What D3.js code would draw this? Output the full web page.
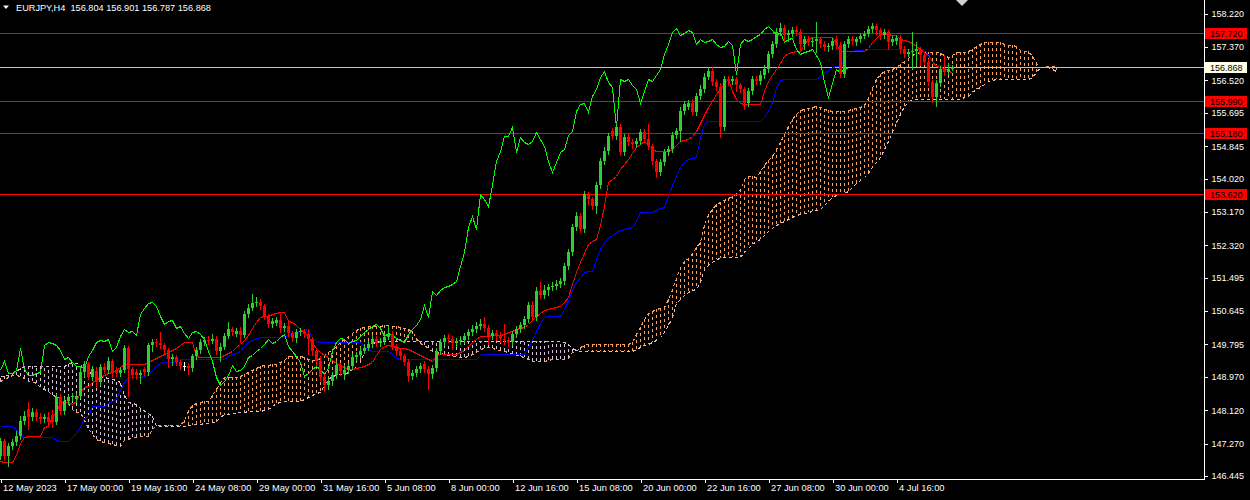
<!DOCTYPE html>
<html><head><meta charset="utf-8">
<script src="https://cdn.jsdelivr.net/npm/d3@7"></script>
<style>html,body{margin:0;padding:0;background:#000;overflow:hidden}svg{display:block}</style>
</head><body>
<svg id="c" width="1250" height="500"></svg>
<script>
const symbolTitle = "EURJPY,H4";
const lastQuote = ["156.804","156.901","156.787","156.868"];

const openP = [146.95,147.33,146.95,147.20,147.30,147.46,147.84,148.14,147.94,148.07,
147.94,147.89,147.94,147.99,147.81,148.45,148.09,148.35,148.45,148.40,
148.48,149.09,149.29,148.96,149.11,148.83,149.21,149.14,149.37,149.14,
149.06,149.14,149.70,149.16,149.09,149.01,149.16,149.09,149.77,149.85,
149.82,149.77,149.65,149.42,149.47,149.34,149.24,149.24,149.19,149.49,
149.65,149.85,149.90,149.88,149.93,149.62,149.72,150.00,150.18,150.05,
150.13,150.03,150.56,150.72,150.84,150.87,150.77,150.51,150.31,150.33,
150.41,150.21,150.26,150.08,149.95,150.10,150.13,150.05,149.93,149.62,
149.37,148.96,148.76,148.86,149.01,149.26,149.04,149.14,149.24,149.47,
149.52,149.62,149.70,149.80,149.93,149.82,149.88,149.98,150.05,149.75,
149.62,149.49,149.34,148.98,149.06,149.16,149.29,149.16,149.04,149.19,
149.62,149.85,149.95,149.93,149.82,149.88,149.90,150.00,150.10,150.18,
150.26,150.31,150.21,150.00,150.08,150.03,149.93,149.90,149.85,150.05,
150.18,150.28,150.44,150.79,150.49,151.15,151.05,151.17,151.25,151.28,
151.33,151.40,151.79,152.14,152.78,153.06,152.73,153.62,153.49,153.31,
153.85,154.46,154.71,155.22,155.10,155.32,154.69,155.07,154.94,154.89,
154.97,155.20,155.02,154.84,154.46,154.18,154.43,154.69,154.76,155.12,
155.22,155.73,155.83,155.94,155.71,156.11,156.29,156.60,156.75,156.47,
156.34,155.32,156.55,156.50,156.55,156.39,156.29,155.94,156.24,156.55,
156.50,156.65,156.80,157.18,157.44,157.74,157.85,157.67,157.69,157.79,
157.74,157.44,157.57,157.49,157.51,157.57,157.44,157.36,157.39,157.57,
157.41,156.67,157.44,157.57,157.49,157.57,157.64,157.69,157.82,157.90,
157.79,157.67,157.74,157.49,157.51,157.59,157.31,157.18,157.23,157.26,
157.31,157.16,156.98,156.47,156.09,156.45,156.80,156.73,156.804];

const highP = [147.41,147.38,147.28,147.38,147.58,147.97,148.09,148.32,148.17,148.14,
148.04,148.02,148.07,148.12,148.53,148.53,148.42,148.50,148.55,148.55,
149.24,149.37,149.34,149.24,149.21,149.29,149.32,149.47,149.42,149.21,
149.21,149.77,149.75,149.21,149.16,149.14,149.21,149.82,149.93,149.93,
150.10,149.82,149.70,149.54,149.52,149.39,149.34,149.32,149.54,149.72,
149.93,149.98,150.00,150.05,150.00,149.82,150.08,150.36,150.23,150.21,
150.23,150.64,150.82,151.07,151.00,150.95,150.82,150.56,150.46,150.49,
150.56,150.33,150.36,150.13,150.18,150.21,150.18,150.18,149.98,149.67,
149.49,149.04,148.93,149.09,149.37,149.32,149.26,149.32,149.54,149.60,
149.72,149.80,149.88,150.03,150.00,149.95,150.05,150.26,150.13,149.80,
149.67,149.54,149.42,149.14,149.24,149.32,149.37,149.24,149.26,149.70,
149.93,150.03,150.05,150.00,149.95,150.00,150.08,150.18,150.28,150.36,
150.44,150.49,150.28,150.16,150.16,150.10,150.31,149.98,150.13,150.26,
150.36,150.51,150.87,150.89,151.25,151.38,151.30,151.33,151.38,151.43,
151.48,151.86,152.22,152.86,153.16,153.14,153.70,153.67,153.54,153.92,
154.54,154.82,155.17,155.30,155.48,155.40,155.15,155.15,155.02,155.05,
155.27,155.27,155.40,154.89,154.51,154.51,154.76,154.84,155.20,155.30,
155.83,155.99,156.01,156.04,156.19,156.39,156.70,156.85,156.85,156.55,
156.45,156.62,156.62,156.62,156.60,156.45,156.34,156.32,156.62,156.62,
156.75,156.90,157.26,157.51,157.85,157.97,157.92,157.79,157.87,157.90,
157.82,157.64,157.64,157.59,158.00,157.62,157.51,157.46,157.59,157.64,
157.49,157.51,157.64,157.64,157.62,157.72,157.77,157.90,157.97,157.95,
157.85,157.82,157.79,157.64,157.67,157.67,157.39,157.31,157.74,157.49,
157.36,157.21,157.06,156.52,156.52,156.88,157.16,156.95,156.901];

const lowP = [146.87,146.85,146.69,147.13,147.23,147.38,147.76,147.64,147.86,147.86,
147.79,147.81,147.71,147.69,147.76,148.02,148.02,148.27,148.37,148.32,
148.42,148.98,148.91,148.88,148.70,148.76,149.06,149.06,148.96,148.98,
148.98,149.09,148.48,148.93,148.91,148.81,149.01,149.01,149.62,149.75,
149.70,149.57,149.21,149.26,149.26,149.16,149.14,149.04,149.11,149.42,
149.57,149.77,149.80,149.82,149.54,149.37,149.67,149.95,150.03,150.00,
149.85,149.98,150.49,150.67,150.77,150.69,150.44,150.23,150.23,150.28,
150.10,150.13,150.00,149.88,149.85,150.03,149.98,149.54,149.52,149.26,
148.88,148.60,148.65,148.76,148.93,149.01,148.91,149.06,149.16,149.39,
149.47,149.57,149.65,149.72,149.75,149.75,149.80,149.93,149.67,149.52,
149.42,149.26,148.86,148.91,148.98,149.09,149.09,148.65,148.93,149.11,
149.54,149.77,149.85,149.67,149.75,149.80,149.82,149.93,150.03,150.10,
150.18,150.13,149.80,149.93,149.90,149.85,149.80,149.75,149.77,149.98,
150.10,150.21,150.36,150.41,150.41,150.97,150.97,151.05,151.17,151.20,
151.25,151.33,151.71,152.07,152.70,152.65,152.65,153.36,153.24,153.14,
153.77,154.38,154.64,155.02,155.02,154.61,154.61,154.87,154.79,154.82,
154.89,154.94,154.76,154.38,154.05,154.10,154.36,154.61,154.69,155.05,
154.97,155.66,155.78,155.63,155.63,156.04,156.22,156.55,156.39,156.27,
155.07,155.25,156.39,156.42,156.24,156.22,155.78,155.86,156.17,156.42,
156.42,156.57,156.73,157.11,157.36,157.67,157.51,157.51,157.64,157.67,
157.26,157.31,157.41,157.39,157.23,157.36,157.29,157.26,157.31,157.31,
156.60,156.60,157.36,157.44,157.41,157.49,157.59,157.64,157.74,157.69,
157.57,157.59,157.31,157.41,157.44,157.21,157.11,157.13,156.80,156.90,
156.90,156.93,156.39,155.96,155.86,156.37,156.65,156.67,156.787];

const closeP = [147.33,146.95,147.20,147.30,147.46,147.84,147.97,147.94,148.07,147.94,
147.89,147.94,147.81,147.81,148.45,148.09,148.35,148.45,148.48,148.48,
149.09,149.29,148.96,149.16,148.83,149.21,149.14,149.37,149.06,149.06,
149.14,149.70,149.16,149.01,149.01,149.06,149.09,149.77,149.85,149.82,
149.77,149.65,149.42,149.47,149.34,149.24,149.24,149.19,149.49,149.65,
149.85,149.90,149.88,149.93,149.62,149.72,150.00,150.18,150.10,150.13,
150.03,150.56,150.72,150.84,150.87,150.77,150.51,150.31,150.39,150.41,
150.21,150.26,150.08,149.95,150.10,150.13,150.05,149.93,149.62,149.37,
148.96,148.76,148.86,149.01,149.26,149.11,149.14,149.24,149.47,149.52,
149.62,149.70,149.80,149.93,149.82,149.88,149.98,150.05,149.75,149.62,
149.49,149.34,148.98,149.06,149.16,149.24,149.16,149.04,149.19,149.62,
149.85,149.95,149.93,149.82,149.88,149.90,150.00,150.10,150.18,150.26,
150.31,150.21,150.00,150.08,150.03,149.95,149.90,149.85,150.05,150.18,
150.28,150.44,150.79,150.49,151.15,151.05,151.17,151.25,151.28,151.33,
151.40,151.79,152.14,152.78,153.06,152.73,153.62,153.49,153.31,153.85,
154.46,154.71,155.10,155.10,155.32,154.69,155.07,154.94,154.89,154.97,
155.20,155.02,154.84,154.46,154.18,154.43,154.69,154.76,155.12,155.22,
155.73,155.91,155.94,155.71,156.11,156.29,156.60,156.75,156.47,156.34,
155.32,156.55,156.50,156.55,156.39,156.29,155.94,156.24,156.55,156.50,
156.65,156.80,157.18,157.44,157.74,157.85,157.67,157.72,157.79,157.74,
157.44,157.57,157.49,157.51,157.57,157.44,157.36,157.39,157.51,157.41,
156.67,157.44,157.57,157.51,157.57,157.64,157.69,157.82,157.90,157.79,
157.67,157.74,157.49,157.57,157.59,157.31,157.18,157.23,157.26,157.31,
157.16,156.98,156.47,156.09,156.45,156.80,156.73,156.80,156.868];

const tenkan = [146.82,146.80,146.80,146.80,146.97,147.28,147.43,147.46,147.46,147.46,
147.46,147.69,147.71,147.97,148.07,148.32,148.32,148.32,148.27,148.35,
148.58,148.70,148.73,148.83,148.88,148.96,149.01,149.06,149.09,149.14,
149.21,149.29,149.29,149.29,149.29,149.29,149.29,149.34,149.39,149.44,
149.49,149.54,149.60,149.65,149.70,149.77,149.85,149.85,149.85,149.49,
149.47,149.47,149.47,149.47,149.47,149.47,149.52,149.57,149.62,149.72,
149.80,149.90,150.03,150.21,150.36,150.49,150.51,150.51,150.56,150.59,
150.61,150.61,150.39,150.36,150.28,150.18,150.10,150.00,149.82,149.70,
149.60,149.52,149.47,149.39,149.32,149.26,149.21,149.16,149.16,149.19,
149.21,149.24,149.29,149.34,149.52,149.67,149.75,149.77,149.75,149.72,
149.70,149.70,149.67,149.62,149.57,149.52,149.47,149.42,149.37,149.52,
149.54,149.54,149.54,149.54,149.54,149.60,149.65,149.75,149.85,149.93,
150.00,150.00,150.00,150.03,150.03,150.03,150.05,150.10,150.13,150.18,
150.21,150.23,150.31,150.41,150.51,150.59,150.66,150.69,150.72,150.74,
150.77,150.87,151.00,151.33,151.63,151.89,152.12,152.35,152.42,152.47,
152.83,153.31,153.92,154.00,154.08,154.26,154.38,154.51,154.66,154.82,
154.89,154.97,154.87,154.76,154.71,154.71,154.71,154.71,154.76,154.87,
154.97,154.99,155.02,155.10,155.22,155.43,155.63,155.83,155.99,156.17,
156.29,156.45,156.55,156.24,156.04,155.94,155.91,155.91,155.91,155.91,
155.91,156.24,156.50,156.65,156.80,156.95,157.13,157.21,157.23,157.26,
157.26,157.44,157.57,157.62,157.62,157.62,157.62,157.62,157.62,157.44,
157.26,157.26,157.26,157.26,157.26,157.26,157.26,157.34,157.49,157.59,
157.69,157.69,157.69,157.67,157.67,157.57,157.54,157.51,157.46,157.39,
157.31,157.23,157.16,157.01,156.88,156.85,156.83,156.78,156.70];

const kijun = [147.71,147.71,147.71,147.71,147.64,147.46,147.43,147.43,147.43,147.43,
147.43,147.43,147.43,147.43,147.35,147.33,147.33,147.33,147.43,147.53,
147.69,147.91,147.97,148.22,148.22,148.22,148.22,148.30,148.35,148.42,
148.63,148.83,148.96,148.96,148.96,148.96,148.98,149.04,149.14,149.24,
149.32,149.34,149.34,149.34,149.37,149.42,149.42,149.42,149.42,149.42,
149.42,149.42,149.42,149.42,149.42,149.42,149.42,149.49,149.54,149.57,
149.62,149.75,149.85,149.90,149.95,149.98,149.98,149.98,149.98,149.98,
149.98,150.00,150.03,150.05,150.10,150.13,150.18,150.16,149.98,149.88,
149.85,149.85,149.85,149.85,149.85,149.85,149.85,149.85,149.85,149.85,
149.85,149.75,149.65,149.62,149.62,149.62,149.62,149.62,149.54,149.44,
149.42,149.42,149.42,149.42,149.42,149.42,149.42,149.42,149.42,149.42,
149.42,149.42,149.42,149.42,149.42,149.42,149.42,149.42,149.42,149.42,
149.52,149.54,149.54,149.54,149.54,149.54,149.54,149.54,149.54,149.54,
149.54,149.54,149.72,149.90,150.13,150.33,150.49,150.51,150.51,150.51,
150.51,150.69,150.89,151.17,151.38,151.50,151.63,151.66,151.66,151.96,
152.22,152.40,152.50,152.57,152.65,152.70,152.73,152.75,152.78,152.93,
153.16,153.16,153.16,153.16,153.21,153.26,153.29,153.57,153.85,154.08,
154.31,154.43,154.51,154.54,154.56,155.07,155.40,155.48,155.48,155.48,
155.48,155.48,155.48,155.48,155.48,155.48,155.48,155.48,155.48,155.48,
155.48,155.58,155.73,155.96,156.32,156.52,156.55,156.55,156.55,156.55,
156.55,156.55,156.55,156.55,156.55,156.62,156.70,156.78,156.85,156.88,
156.88,157.06,157.16,157.26,157.29,157.29,157.31,157.31,157.31,157.31,
157.31,157.31,157.31,157.31,157.31,157.31,157.31,157.31,157.31,157.31,
157.31,157.31,157.18,157.01,156.90,156.90,156.90,156.90,156.90];

const spanA = [148.86,148.91,148.96,149.01,149.01,148.98,148.93,148.86,148.86,148.81,
148.70,148.65,148.60,148.50,148.48,148.45,148.40,148.30,148.14,148.07,
148.07,147.86,147.66,147.51,147.38,147.33,147.30,147.28,147.25,147.23,
147.20,147.35,147.38,147.43,147.43,147.46,147.46,147.46,147.64,147.74,
147.74,147.74,147.74,147.74,147.74,147.74,147.86,148.12,148.25,148.30,
148.32,148.35,148.35,148.50,148.65,148.83,148.96,148.96,148.96,148.96,
148.98,149.04,149.09,149.14,149.19,149.24,149.26,149.26,149.29,149.29,
149.34,149.39,149.49,149.49,149.49,149.49,149.47,149.42,149.39,149.39,
149.44,149.52,149.60,149.67,149.75,149.85,149.93,150.00,150.08,150.16,
150.21,150.23,150.26,150.26,150.26,150.26,150.28,150.28,150.26,150.26,
150.23,150.21,150.18,150.13,149.95,149.82,149.77,149.70,149.62,149.60,
149.57,149.54,149.52,149.49,149.49,149.47,149.47,149.49,149.54,149.60,
149.67,149.70,149.72,149.70,149.67,149.65,149.62,149.60,149.54,149.52,
149.49,149.47,149.42,149.37,149.37,149.37,149.37,149.39,149.42,149.42,
149.42,149.42,149.44,149.60,149.62,149.72,149.77,149.80,149.80,149.80,
149.80,149.80,149.80,149.80,149.80,149.80,149.80,149.80,149.85,150.05,
150.23,150.44,150.59,150.64,150.69,150.72,150.74,150.95,151.20,151.48,
151.76,151.91,151.99,152.12,152.27,152.40,152.83,153.11,153.24,153.36,
153.41,153.47,153.52,153.57,153.64,153.75,154.00,154.08,154.08,154.05,
154.20,154.36,154.48,154.59,154.76,154.94,155.15,155.35,155.53,155.66,
155.76,155.78,155.81,155.83,155.86,155.83,155.78,155.76,155.73,155.73,
155.73,155.73,155.76,155.78,155.81,155.83,155.88,156.06,156.32,156.55,
156.67,156.75,156.78,156.80,156.85,156.93,157.01,157.08,157.16,157.21,
157.23,157.23,157.23,157.23,157.23,157.21,157.16,157.11,157.16,157.23,
157.23,157.23,157.26,157.31,157.39,157.44,157.49,157.49,157.49,157.49,
157.49,157.44,157.41,157.41,157.39,157.29,157.26,157.26,157.13,156.95,
156.85,156.85,156.88,156.88,156.85];

const spanB = [148.98,148.98,149.01,149.06,149.11,149.19,149.24,149.24,149.24,149.24,
149.24,149.24,149.24,149.24,149.24,149.24,149.24,149.29,149.34,149.32,
149.29,149.14,149.09,149.06,149.04,148.98,148.96,148.93,148.91,148.88,
148.83,148.50,148.32,148.30,148.27,148.17,148.12,148.04,147.97,147.71,
147.71,147.71,147.71,147.71,147.71,147.71,147.71,147.74,147.74,147.76,
147.76,147.79,147.79,147.81,147.81,147.97,147.99,148.02,148.04,148.04,
148.07,148.07,148.09,148.09,148.09,148.09,148.12,148.14,148.22,148.30,
148.32,148.35,148.35,148.35,148.35,148.35,148.40,148.45,148.50,148.55,
148.58,148.76,148.91,148.98,149.01,149.04,149.04,149.09,149.16,149.24,
149.34,149.62,149.77,149.82,149.85,149.88,149.88,149.88,149.88,149.88,
149.88,149.88,149.88,149.88,149.88,149.88,149.88,149.88,149.88,149.88,
149.88,149.88,149.88,149.88,149.88,149.88,149.88,149.88,149.88,149.88,
149.88,149.88,149.88,149.88,149.88,149.88,149.88,149.88,149.88,149.88,
149.88,149.88,149.88,149.88,149.88,149.88,149.88,149.88,149.88,149.88,
149.88,149.85,149.80,149.70,149.65,149.62,149.62,149.62,149.62,149.62,
149.62,149.62,149.62,149.62,149.62,149.62,149.62,149.62,149.62,149.67,
149.72,149.77,149.80,149.85,149.90,149.98,150.10,150.28,150.49,150.84,
150.95,151.05,151.12,151.17,151.20,151.38,151.71,151.81,151.89,151.96,
151.99,152.01,152.01,152.01,152.01,152.01,152.14,152.24,152.35,152.42,
152.47,152.57,152.68,152.75,152.83,152.88,152.93,152.98,153.03,153.08,
153.11,153.13,153.16,153.19,153.21,153.24,153.34,153.44,153.54,153.59,
153.62,153.64,153.69,153.80,153.90,153.98,154.05,154.15,154.31,154.43,
154.56,154.76,154.97,155.20,155.43,155.66,155.86,155.96,156.04,156.04,
156.04,156.04,156.04,156.04,156.04,156.04,156.04,156.04,156.04,156.04,
156.04,156.09,156.11,156.22,156.29,156.34,156.42,156.50,156.52,156.55,
156.55,156.55,156.55,156.55,156.55,156.55,156.55,156.55,156.60,156.73,
156.85,156.85,156.85,156.80,156.75];

const chikouShift = 26;
const priceTicks = ["158.220","157.370","156.520","155.695","154.845","154.020","153.170","152.320",
                    "151.495","150.645","149.795","148.970","148.120","147.270","146.445"];
const timeLabels = ["12 May 2023","17 May 00:00","19 May 16:00","24 May 08:00","29 May 00:00",
                    "31 May 16:00","5 Jun 08:00","8 Jun 00:00","12 Jun 16:00","15 Jun 08:00",
                    "20 Jun 00:00","22 Jun 16:00","27 Jun 08:00","30 Jun 00:00","4 Jul 16:00"];
const timeLabelBars = [0,16,32,48,64,80,96,112,128,144,160,176,192,208,224];
const levelLines = ["157.720","155.990","155.180","153.620"];
const bidPrice = "156.868";

// ---------------- drawing ----------------
const W = 1250, H = 500, plotR = 1204, plotB = 479;
const FONT = "'Liberation Sans', Arial, sans-serif";
const UP = "#32CD32", DOWN = "#FF0000", DOJI = "#FFFFFF";
const C_TENKAN = "#FF0000", C_KIJUN = "#0000FF", C_CHIKOU = "#00FF00";
const C_SPANA = "#F4A460", C_SPANB = "#D8BFD8";
const DASH = "3,3";

const svg = d3.select("#c");
svg.append("rect").attr("width", W).attr("height", H).attr("fill", "#000");

const x = d3.scaleLinear().domain([0, 301]).range([0, 1204]);
const y = d3.scaleLinear().domain([146.445, 158.220]).range([476.0, 13.6]);
const px = i => Math.round(x(i)) + 0.5;
const py = v => Math.round(y(v)) + 0.5;

svg.append("defs").append("clipPath").attr("id", "plot")
  .append("rect").attr("x", 0).attr("y", 0).attr("width", plotR).attr("height", plotB);
const g = svg.append("g").attr("clip-path", "url(#plot)").attr("shape-rendering", "crispEdges");

// Ichimoku cloud hatch
const spanIdx = d3.range(spanA.length);
g.append("g").selectAll("line").data(spanIdx).join("line")
  .attr("x1", i => px(i)).attr("x2", i => px(i))
  .attr("y1", i => Math.round(y(spanA[i]))).attr("y2", i => Math.round(y(spanB[i])))
  .attr("stroke", i => spanA[i] >= spanB[i] ? C_SPANA : C_SPANB)
  .attr("stroke-width", 1).attr("stroke-dasharray", DASH);

const lineOf = (arr, shift) => d3.line().x((d, i) => px(i + shift)).y(d => Math.round(y(d)) + 0.5)(arr);
g.append("path").attr("d", lineOf(spanA, 0)).attr("fill", "none").attr("stroke", C_SPANA).attr("stroke-dasharray", DASH);
g.append("path").attr("d", lineOf(spanB, 0)).attr("fill", "none").attr("stroke", C_SPANB).attr("stroke-dasharray", DASH);

// horizontal level lines
g.selectAll("line.lvl").data(levelLines).join("line").attr("class", "lvl")
  .attr("x1", 0).attr("x2", plotR).attr("y1", d => py(+d)).attr("y2", d => py(+d))
  .attr("stroke", "#FF0000");
g.append("line").attr("x1", 0).attr("x2", plotR).attr("y1", py(+bidPrice)).attr("y2", py(+bidPrice))
  .attr("stroke", "#C0C0C0");

// Tenkan, Kijun, Chikou
g.append("path").attr("d", lineOf(kijun, 0)).attr("fill", "none").attr("stroke", C_KIJUN);
g.append("path").attr("d", lineOf(tenkan, 0)).attr("fill", "none").attr("stroke", C_TENKAN);
g.append("path").attr("d", lineOf(closeP.slice(chikouShift), 0)).attr("fill", "none").attr("stroke", C_CHIKOU);

// candles
const idx = d3.range(closeP.length);
const colorOf = i => closeP[i] > openP[i] ? UP : (closeP[i] < openP[i] ? DOWN : DOJI);
const cg = g.append("g");
cg.selectAll("line").data(idx).join("line")
  .attr("x1", i => px(i)).attr("x2", i => px(i))
  .attr("y1", i => Math.round(y(highP[i]))).attr("y2", i => Math.round(y(lowP[i])) + 1)
  .attr("stroke", colorOf);
cg.selectAll("rect").data(idx).join("rect")
  .attr("x", i => Math.round(x(i)) - 1).attr("width", 3)
  .attr("y", i => Math.round(y(Math.max(openP[i], closeP[i]))))
  .attr("height", i => Math.max(1, Math.round(y(Math.min(openP[i], closeP[i]))) - Math.round(y(Math.max(openP[i], closeP[i])))))
  .attr("fill", colorOf);

// axes frame
svg.append("line").attr("x1", plotR + 0.5).attr("x2", plotR + 0.5).attr("y1", 0).attr("y2", plotB + 1)
  .attr("stroke", "#fff").attr("shape-rendering", "crispEdges");
svg.append("line").attr("x1", 0).attr("x2", plotR + 1).attr("y1", plotB + 0.5).attr("y2", plotB + 0.5)
  .attr("stroke", "#fff").attr("shape-rendering", "crispEdges");

// price axis
const yAxis = d3.axisRight(y).tickValues(priceTicks.map(Number)).tickFormat(d3.format(".3f"))
  .tickSize(3).tickSizeOuter(0).tickPadding(4);
const ya = svg.append("g").attr("transform", `translate(${plotR + 0.5},0)`).call(yAxis);
ya.select(".domain").remove();
ya.selectAll(".tick line").attr("stroke", "#fff").attr("shape-rendering", "crispEdges");
ya.selectAll(".tick text").attr("fill", "#fff").attr("font-family", FONT).attr("font-size", "9px");

// time axis
const xAxis = d3.axisBottom(x).tickValues(timeLabelBars).tickFormat((d, i) => timeLabels[i])
  .tickSize(3).tickSizeOuter(0);
const xa = svg.append("g").attr("transform", `translate(0.5,${plotB + 0.5})`).call(xAxis);
xa.select(".domain").remove();
xa.selectAll(".tick line").attr("stroke", "#fff").attr("shape-rendering", "crispEdges");
xa.selectAll(".tick text").attr("fill", "#fff").attr("font-family", FONT).attr("font-size", "9.3px")
  .attr("text-anchor", "start").attr("x", 2).attr("y", 5).attr("dy", "0.71em");

// price label boxes
const boxes = svg.append("g");
levelLines.forEach(v => {
  const yy = Math.round(y(+v));
  boxes.append("rect").attr("x", 1205).attr("y", yy - 5).attr("width", 42).attr("height", 11).attr("fill", "#FF0000");
  boxes.append("text").attr("x", 1210).attr("y", yy + 0.5).attr("dy", "0.35em").attr("fill", "#000")
    .attr("font-family", FONT).attr("font-size", "9px").text(v);
});
{
  const yy = Math.round(y(+bidPrice));
  boxes.append("rect").attr("x", 1205).attr("y", yy - 5).attr("width", 42).attr("height", 11).attr("fill", "#FFFFE6");
  boxes.append("text").attr("x", 1210).attr("y", yy + 0.5).attr("dy", "0.35em").attr("fill", "#000")
    .attr("font-family", FONT).attr("font-size", "9px").text(bidPrice);
}

// header
svg.append("path").attr("d", "M3,5.5 L9,5.5 L6,9 Z").attr("fill", "#FFFFE0");
svg.append("text").attr("x", 16).attr("y", 11).attr("fill", "#fff").attr("font-family", FONT)
  .attr("font-size", "9.2px").attr("xml:space", "preserve")
  .text(symbolTitle + "  " + lastQuote.join(" "));
// chart shift marker
svg.append("path").attr("d", "M956,0 L968,0 L962,6 Z").attr("fill", "#D0D0D0");
</script>
</body></html>
